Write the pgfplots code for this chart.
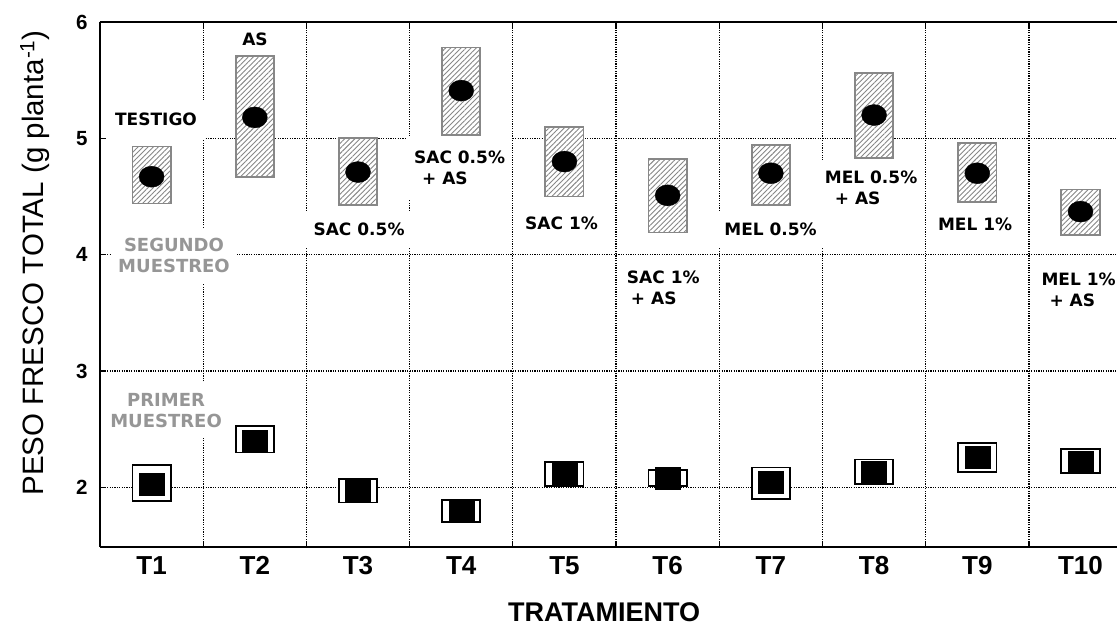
\documentclass[border=0pt]{standalone}
\usepackage{fontspec}
\setmainfont{Liberation Sans}
\newfontfamily\annfont{DejaVu Sans}
\usepackage{pgfplots}
\usepackage{pgfplotstable}
\pgfplotsset{compat=1.18}
\usepgfplotslibrary{statistics}
\usetikzlibrary{patterns.meta}
\definecolor{hatchgray}{RGB}{135,135,135}
\definecolor{labgray}{RGB}{150,150,150}

% second sampling: mean and box limits
\pgfplotstableread{
x mean lo hi
1 4.67 4.44 4.93
2 5.18 4.67 5.71
3 4.71 4.43 5.00
4 5.41 5.03 5.78
5 4.80 4.50 5.10
6 4.51 4.19 4.82
7 4.70 4.43 4.94
8 5.20 4.83 5.56
9 4.70 4.45 4.96
10 4.37 4.17 4.56
}\segundo

% first sampling: mean and box limits
\pgfplotstableread{
x mean lo hi
1 2.03 1.88 2.19
2 2.40 2.30 2.53
3 1.97 1.87 2.07
4 1.80 1.70 1.89
5 2.12 2.01 2.22
6 2.08 2.01 2.15
7 2.04 1.90 2.17
8 2.13 2.03 2.24
9 2.26 2.13 2.38
10 2.22 2.12 2.33
}\primer

\pgfplotsset{
  primbox/.style={boxplot/every box/.style={draw=black, line width=1.8pt, fill=white}},
  segbox/.style={boxplot/every box/.style={draw=hatchgray, line width=1.8pt, preaction={fill=white},
      pattern={Lines[angle=45,distance=3.6pt,line width=0.9pt]}, pattern color=hatchgray}},
}
\newcommand{\caja}[3]{%
  \pgfplotstablegetelem{#1}{lo}\of#2\let\cajalo\pgfplotsretval
  \pgfplotstablegetelem{#1}{hi}\of#2\let\cajahi\pgfplotsretval
  \pgfplotstablegetelem{#1}{x}\of#2\let\cajax\pgfplotsretval
  \edef\cajacmd{\noexpand\addplot[#3, boxplot prepared={draw position=\cajax,
      lower whisker=\cajalo, upper whisker=\cajahi, lower quartile=\cajalo,
      upper quartile=\cajahi, median=\cajalo}] coordinates {};}%
  \cajacmd
}

\newcommand{\ann}{\annfont\bfseries\fontsize{17}{20.5}\selectfont}
\newcommand{\anng}{\annfont\bfseries\fontsize{18}{21}\selectfont}

\begin{document}
\begin{tikzpicture}
\useasboundingbox (-100pt,-79pt) rectangle (1017pt,547pt);
\begin{axis}[
  scale only axis, width=1017pt, height=525pt,
  at={(0,0)}, anchor=south west,
  xmin=0.5, xmax=10.354, ymin=1.487, ymax=6,
  axis x line*=box, axis y line*=left,
  axis line style={line width=1.6pt, black},
  tick align=inside,
  xtick={1.5,2.5,...,9.5}, xticklabels={},
  extra x ticks={1,2,...,10},
  extra x tick labels={T1,T2,T3,T4,T5,T6,T7,T8,T9,T10},
  extra x tick style={major tick length=0pt, grid=none},
  ytick={2,3,4,5,6},
  xmajorgrids, ymajorgrids,
  grid style={black, line width=1.2pt, dash pattern=on 1.2pt off 1.2pt},
  major tick length=6pt,
  tick style={black, line width=1.2pt},
  /pgf/number format/assume math mode=true,
  yticklabel style={font=\bfseries\fontsize{20.5}{24}\selectfont, xshift=-9pt},
  xticklabel style={font=\bfseries\fontsize{26}{30}\selectfont, yshift=-6pt},
  xlabel={TRATAMIENTO},
  ylabel={PESO FRESCO TOTAL (g planta\textsuperscript{-1})},
  every axis x label/.style={at={(axis description cs:0.4956,-0.1235)}, anchor=center, font=\bfseries\fontsize{27}{31}\selectfont, inner sep=0pt},
  every axis y label/.style={at={(axis description cs:-0.064,0.541)}, rotate=90, anchor=center, font=\fontsize{29.5}{34}\selectfont, inner sep=0pt},
  boxplot/draw direction=y,
  boxplot/box extend=0.371,
  boxplot/every median/.style={draw=none},
  boxplot/every whisker/.style={draw=none},
]
\pgfplotsinvokeforeach{0,...,9}{\caja{#1}{\primer}{primbox}\caja{#1}{\segundo}{segbox}}
\addplot[only marks, mark=square*, mark size=12.5pt, mark options={black, yscale=0.88}] table[x=x,y=mean]{\primer};
\addplot[only marks, mark=*, mark size=12.5pt, mark options={black, yscale=0.84}] table[x=x,y=mean]{\segundo};

\node[font=\ann, fill=white, inner xsep=8pt, inner ysep=13pt] at (axis cs:1.043,5.164) {TESTIGO};
\node[font=\ann, fill=white, inner sep=3pt] at (axis cs:2.002,5.851) {AS};
\node[font=\ann, fill=white, inner xsep=8pt, inner ysep=11pt] at (axis cs:3.010,4.219) {SAC 0.5\%};
\node[font=\ann, fill=white, inner xsep=7pt, inner ysep=15pt, align=left] at (axis cs:3.984,4.747) {SAC 0.5\%\\\hspace*{8pt}+ AS};
\node[font=\ann, fill=white, inner xsep=7pt, inner ysep=11pt] at (axis cs:4.972,4.271) {SAC 1\%};
\node[font=\ann, fill=white, inner xsep=5pt, inner ysep=8pt, align=left] at (axis cs:5.958,3.714) {SAC 1\%\\\hspace*{4pt}+ AS};
\node[font=\ann, fill=white, inner xsep=7pt, inner ysep=11pt] at (axis cs:6.997,4.219) {MEL 0.5\%};
\node[font=\ann, fill=white, inner xsep=7pt, inner ysep=11pt, align=left] at (axis cs:7.971,4.573) {MEL 0.5\%\\\hspace*{10pt}+ AS};
\node[font=\ann, fill=white, inner xsep=7pt, inner ysep=11pt] at (axis cs:8.979,4.258) {MEL 1\%};
\node[font=\ann, fill=white, inner xsep=5pt, inner ysep=8pt, align=left] at (axis cs:9.982,3.697) {MEL 1\%\\\hspace*{8pt}+ AS};
\node[font=\anng, text=labgray, fill=white, inner xsep=7pt, inner ysep=10pt, align=center] at (axis cs:1.217,3.990) {SEGUNDO\\MUESTREO};
\node[font=\anng, text=labgray, fill=white, inner xsep=7pt, inner ysep=10pt, align=center] at (axis cs:1.140,2.660) {PRIMER\\MUESTREO};
\end{axis}
\end{tikzpicture}
\end{document}
